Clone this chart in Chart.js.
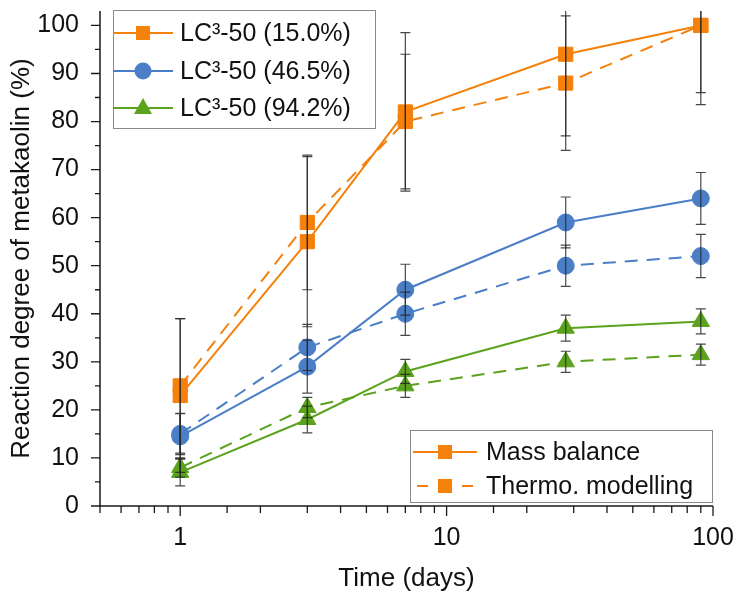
<!DOCTYPE html>
<html>
<head>
<meta charset="utf-8">
<script src="https://cdn.jsdelivr.net/npm/chart.js@4.4.0/dist/chart.umd.min.js"></script>
<style>
html, body { margin: 0; padding: 0; background: #fff; }
</style>
</head>
<body>
<canvas id="chart" width="736" height="599"></canvas>
<script>
// curing time (days)
var days = [1, 3, 7, 28, 90];

// reaction degree of metakaolin (%), mass balance
var massOrange = [23, 55, 82, 94, 100];
var massBlue   = [14.5, 29, 45, 59, 64];
var massGreen  = [7, 18, 28, 37, 38.4];

// reaction degree of metakaolin (%), thermodynamic modelling
var thermoOrange = [25, 59, 80, 88, 100];
var thermoBlue   = [15, 33, 40, 50, 52];
var thermoGreen  = [8, 20.5, 25, 30, 31.5];

// error bars (+/-)
var errMassOrange   = [16, 17.7, 16.5, 17, 14];
var errMassBlue     = [4.7, 5.5, 5.3, 5.3, 5.4];
var errMassGreen    = [2.8, 2.8, 2.5, 2.7, 2.6];
var errThermoOrange = [14, 14, 14, 14, 16.5];
var errThermoBlue   = [4.3, 4.8, 4.5, 4.3, 4.5];
var errThermoGreen  = [2, 2.1, 2.4, 2.2, 2.2];

var seriesNames = ['LC³-50 (15.0%)', 'LC³-50 (46.5%)', 'LC³-50 (94.2%)'];
var methodNames = ['Mass balance', 'Thermo. modelling'];
var xTickLabels = [1, 10, 100];

var ORANGE = '#F5800A';
var BLUE = '#4A7EC7';
var GREEN = '#5BA21D';
var FONT = '"Liberation Sans", Arial, sans-serif';

function pts(vals) {
    return days.map(function(d, i) { return { x: d, y: vals[i] }; });
}

function makeSet(label, vals, errs, color, shape, radius, dashed) {
    return {
        label: label,
        data: pts(vals),
        errors: errs,
        borderColor: color,
        backgroundColor: color,
        borderWidth: 2,
        borderDash: dashed ? [13, 9] : [],
        pointStyle: shape,
        pointRadius: radius,
        pointHoverRadius: radius,
        pointBackgroundColor: color,
        pointBorderColor: color,
        pointBorderWidth: 1,
        tension: 0,
        fill: false
    };
}

function drawMarker(ctx, shape, x, y, color) {
    ctx.save();
    ctx.fillStyle = color;
    ctx.beginPath();
    if (shape === 'rect') {
        ctx.rect(x - 7, y - 7, 14, 14);
    } else if (shape === 'circle') {
        ctx.arc(x, y, 8.5, 0, Math.PI * 2);
    } else {
        ctx.moveTo(x, y - 10);
        ctx.lineTo(x + 9, y + 6);
        ctx.lineTo(x - 9, y + 6);
        ctx.closePath();
    }
    ctx.fill();
    ctx.restore();
}

function drawSample(ctx, x0, x1, y, color, shape, dashed) {
    ctx.save();
    ctx.strokeStyle = color;
    ctx.lineWidth = 2;
    var mid = (x0 + x1) / 2;
    ctx.beginPath();
    if (dashed) {
        ctx.moveTo(x0 + 4, y); ctx.lineTo(x0 + 15, y);
        ctx.moveTo(x1 - 15, y); ctx.lineTo(x1 - 4, y);
    } else {
        ctx.moveTo(x0, y); ctx.lineTo(x1, y);
    }
    ctx.stroke();
    ctx.restore();
    drawMarker(ctx, shape, mid, y, color);
}

var decorPlugin = {
    id: 'decor',
    afterDatasetsDraw: function(chart) {
        var ctx = chart.ctx, area = chart.chartArea;
        var xs = chart.scales.x, ys = chart.scales.y;
        ctx.save();
        ctx.beginPath();
        ctx.rect(area.left, area.top, area.right - area.left, area.bottom - area.top);
        ctx.clip();
        ctx.strokeStyle = 'rgba(40,40,40,0.85)';
        ctx.lineWidth = 1.2;
        chart.data.datasets.forEach(function(ds) {
            ds.data.forEach(function(p, i) {
                var e = ds.errors[i];
                var px = xs.getPixelForValue(p.x);
                var yt = ys.getPixelForValue(p.y + e);
                var yb = ys.getPixelForValue(p.y - e);
                ctx.beginPath();
                ctx.moveTo(px, yt); ctx.lineTo(px, yb);
                ctx.moveTo(px - 5, yt); ctx.lineTo(px + 5, yt);
                ctx.moveTo(px - 5, yb); ctx.lineTo(px + 5, yb);
                ctx.stroke();
            });
        });
        ctx.restore();
    },
    afterDraw: function(chart) {
        var ctx = chart.ctx, area = chart.chartArea;
        var xs = chart.scales.x, ys = chart.scales.y;
        ctx.save();
        ctx.strokeStyle = '#1a1a1a';
        ctx.lineWidth = 1.5;
        // axis lines
        ctx.beginPath();
        ctx.moveTo(area.left, area.top);
        ctx.lineTo(area.left, area.bottom);
        ctx.lineTo(area.right, area.bottom);
        ctx.stroke();
        // tick marks
        ctx.lineWidth = 1.3;
        ctx.beginPath();
        ys.ticks.forEach(function(t) {
            var y = ys.getPixelForValue(t.value);
            var len = (t.value % 10 === 0) ? 9 : 5;
            ctx.moveTo(area.left - len, y); ctx.lineTo(area.left, y);
        });
        xs.ticks.forEach(function(t) {
            var x = xs.getPixelForValue(t.value);
            var lg = Math.log10(t.value);
            var len = Math.abs(lg - Math.round(lg)) < 1e-6 ? 10 : 7;
            ctx.moveTo(x, area.bottom); ctx.lineTo(x, area.bottom + len);
        });
        ctx.stroke();

        // legend: samples
        ctx.fillStyle = '#fff';
        ctx.fillRect(113, 10, 262, 118);
        ctx.strokeStyle = '#8a8a8a';
        ctx.lineWidth = 1;
        ctx.strokeRect(113.5, 10.5, 262, 118);
        var colors = [ORANGE, BLUE, GREEN];
        var shapes = ['rect', 'circle', 'triangle'];
        var rows = [33, 71, 108];
        ctx.font = '25px ' + FONT;
        ctx.textBaseline = 'middle';
        ctx.textAlign = 'left';
        for (var i = 0; i < 3; i++) {
            drawSample(ctx, 113, 173, rows[i], colors[i], shapes[i], false);
            ctx.fillStyle = '#111';
            ctx.fillText(seriesNames[i], 180, rows[i] + 1);
        }

        // legend: methods
        ctx.fillStyle = '#fff';
        ctx.fillRect(410, 430, 302, 72);
        ctx.strokeStyle = '#8a8a8a';
        ctx.strokeRect(410.5, 430.5, 302, 72);
        var rows2 = [452, 486];
        for (var j = 0; j < 2; j++) {
            drawSample(ctx, 413, 477, rows2[j], ORANGE, 'rect', j === 1);
            ctx.fillStyle = '#111';
            ctx.fillText(methodNames[j], 486, rows2[j] + 1);
        }
        ctx.restore();
    }
};

var ctx = document.getElementById('chart').getContext('2d');
var myChart = new Chart(ctx, {
    type: 'line',
    data: {
        datasets: [
            makeSet('Mass balance 15.0', massOrange, errMassOrange, ORANGE, 'rect', 10, false),
            makeSet('Thermo 15.0', thermoOrange, errThermoOrange, ORANGE, 'rect', 10, true),
            makeSet('Mass balance 46.5', massBlue, errMassBlue, BLUE, 'circle', 8.5, false),
            makeSet('Thermo 46.5', thermoBlue, errThermoBlue, BLUE, 'circle', 8.5, true),
            makeSet('Mass balance 94.2', massGreen, errMassGreen, GREEN, 'triangle', 10, false),
            makeSet('Thermo 94.2', thermoGreen, errThermoGreen, GREEN, 'triangle', 10, true)
        ]
    },
    options: {
        responsive: false,
        animation: false,
        layout: { padding: { top: 5, right: 23, left: 0, bottom: 0 } },
        plugins: {
            legend: { display: false },
            tooltip: { enabled: false }
        },
        scales: {
            x: {
                type: 'logarithmic',
                min: 0.5,
                max: 100,
                grid: { display: false },
                border: { display: false },
                afterFit: function(scale) {
                    scale.height = 93;
                    scale.paddingLeft = 0;
                    scale.paddingRight = 0;
                },
                ticks: {
                    autoSkip: false,
                    maxRotation: 0,
                    padding: 9,
                    color: '#111',
                    font: { family: FONT, size: 25 },
                    callback: function(value) {
                        for (var k = 0; k < xTickLabels.length; k++) {
                            if (Math.abs(value - xTickLabels[k]) < 1e-6) return String(xTickLabels[k]);
                        }
                        return '';
                    }
                },
                title: {
                    display: true,
                    text: 'Time (days)',
                    color: '#111',
                    font: { family: FONT, size: 26 },
                    padding: { top: 0, bottom: 5 }
                }
            },
            y: {
                min: 0,
                max: 103,
                grid: { display: false },
                border: { display: false },
                afterFit: function(scale) {
                    scale.width = 100;
                    scale.paddingTop = 0;
                    scale.paddingBottom = 0;
                },
                ticks: {
                    stepSize: 5,
                    includeBounds: false,
                    autoSkip: false,
                    padding: 13,
                    color: '#111',
                    font: { family: FONT, size: 25 },
                    callback: function(value) {
                        return value % 10 === 0 ? String(value) : '';
                    }
                },
                title: {
                    display: true,
                    text: 'Reaction degree of metakaolin (%)',
                    color: '#111',
                    font: { family: FONT, size: 26 },
                    padding: { top: 6, bottom: 0 }
                }
            }
        }
    },
    plugins: [decorPlugin]
});
</script>
</body>
</html>
